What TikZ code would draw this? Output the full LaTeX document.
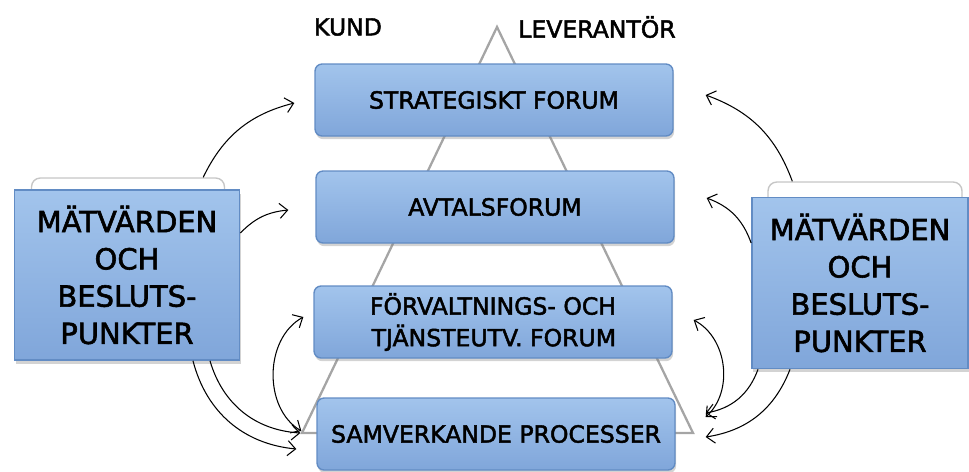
\documentclass[tikz,border=0pt]{standalone}
\usepackage{fontspec}
\setmainfont{DejaVu Sans}
\newfontfamily\heavyfont{DejaVu Sans}[FakeBold=2]
\usetikzlibrary{calc,shadows,arrows.meta}

\definecolor{boxblue}{RGB}{142,180,227}
\definecolor{boxtop}{RGB}{162,196,236}
\definecolor{boxbottom}{RGB}{128,166,218}
\definecolor{boxedge}{RGB}{98,140,196}
\definecolor{pyramidgray}{RGB}{165,165,165}

\tikzset{
  forum/.style={draw=boxedge, top color=boxtop, middle color=boxblue, bottom color=boxbottom,
    line width=0.8pt, rounded corners=4pt,
    minimum width=7.16cm, minimum height=1.44cm, inner sep=0pt,
    drop shadow={shadow xshift=0.6pt, shadow yshift=-1.8pt, opacity=0.35},
    font=\heavyfont\fontsize{13.4}{18}\selectfont},
  measure/.style={draw=boxedge, top color=boxtop, middle color=boxblue, bottom color=boxbottom,
    line width=1pt, inner sep=0pt, align=center,
    drop shadow={shadow xshift=0.8pt, shadow yshift=-2pt, opacity=0.35},
    font=\heavyfont\fontsize{16.5}{21.2}\selectfont},
  tab/.style={draw=gray!45, fill=white, rounded corners=5pt, line width=0.8pt},
  label/.style={font=\heavyfont\fontsize{13.4}{16}\selectfont},
  link/.style={->, line width=0.6pt},
  twoway/.style={<->, line width=0.6pt},
  >={Straight Barb[length=1.6mm,width=3mm]}
}

\begin{document}
\begin{tikzpicture}[x=0.02cm, y=-0.02cm]
  \useasboundingbox (0,0) rectangle (969,471);

  % the pyramid behind the forums
  \coordinate (top) at (497,27);
  \coordinate (baseL) at (302,433);
  \coordinate (baseR) at (693,433);
  \draw[pyramidgray, line width=1.3pt, line join=miter] (top) -- (baseL) -- (baseR) -- cycle;

  \node[label] (kund) at (348,27) {KUND};
  \node[label] (lev) at (597,27) {LEVERANTÖR};

  % forum boxes
  \node[forum] (strat) at (494,100) {STRATEGISKT FORUM};
  \node[forum] (avtal) at (495,207) {AVTALSFORUM};
  \node[forum, align=right] (forv) at (493,322) {FÖRVALTNINGS- OCH\\TJÄNSTEUTV. FORUM};
  \node[forum] (samv) at (496,434) {SAMVERKANDE PROCESSER};

  % measurement boxes with their tabs
  \node[tab, minimum width=3.86cm, minimum height=0.48cm] (ltab) at (128,190) {};
  \node[measure, minimum width=4.5cm, minimum height=3.4cm] (lmaet) at (127,275)
    {MÄTVÄRDEN\\OCH\\BESLUTS-\\PUNKTER};
  \node[tab, minimum width=3.88cm, minimum height=0.48cm] (rtab) at (865,194) {};
  \node[measure, minimum width=4.32cm, minimum height=3.42cm] (rmaet) at (860,283)
    {MÄTVÄRDEN\\OCH\\BESLUTS-\\PUNKTER};

  % left arrows
  \draw[link] ($(ltab.north east)+(-22,0)$) to[bend left=25] ($(strat.west)+(-20,3)$);
  \draw[link] ($(lmaet.east)+(0,-42)$) to[bend left=20] ($(avtal.west)+(-27,3)$);
  \draw[twoway] ($(forv.west)+(-10,-5)$) to[bend right=60] ($(samv.west)+(-15,-3)$);
  \draw[link] ($(lmaet.south)+(66,0)$) to[bend right=35] ($(samv.west)+(-20,15)$);
  \draw[link] ($(lmaet.south)+(83,0)$) to[bend right=35] ($(samv.west)+(-16,-1)$);

  % right arrows
  \draw[link] ($(rtab.north west)+(25,0)$) to[bend right=25] ($(strat.east)+(32,-5)$);
  \draw[link] ($(rmaet.west)+(0,-40)$) to[bend right=25] ($(avtal.east)+(32,-9)$);
  \draw[twoway] ($(forv.east)+(21,-2)$) to[bend left=55] ($(samv.east)+(30,-17)$);
  \draw[link] ($(rmaet.south)+(-102,0)$) to[bend left=30] ($(samv.east)+(30,-21)$);
  \draw[link] ($(rmaet.south)+(-70,0)$) to[bend left=30] ($(samv.east)+(30,3)$);
\end{tikzpicture}
\end{document}
